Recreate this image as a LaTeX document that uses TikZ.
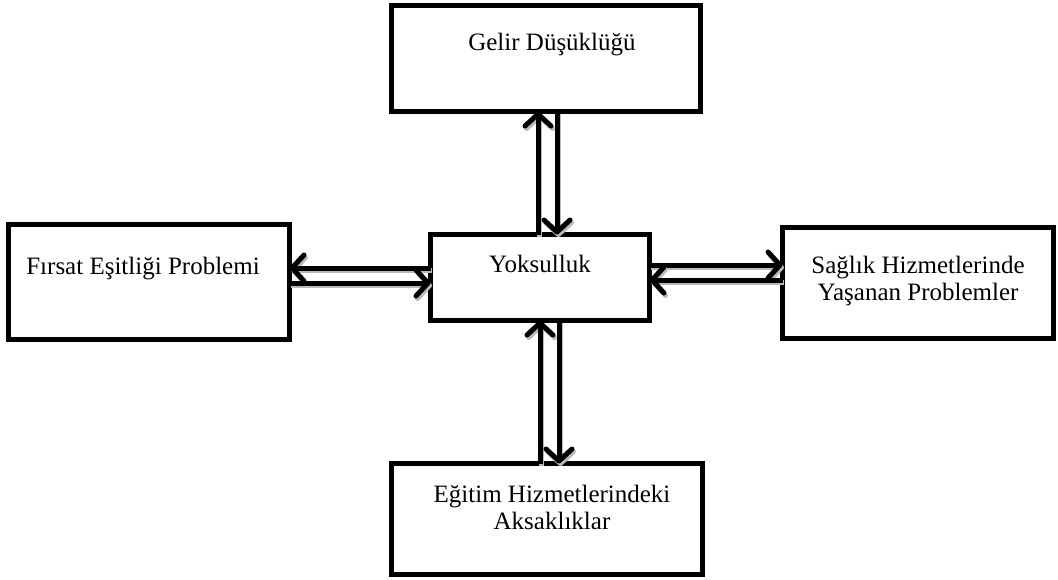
\documentclass[tikz,border=0pt]{standalone}
\usepackage{fontspec}
\setmainfont{Liberation Serif}
\usetikzlibrary{arrows.meta}
\begin{document}
\begin{tikzpicture}[x=1pt,y=-1pt,
  box/.style={draw=black, line width=5pt, rectangle, inner sep=0pt, outer sep=0pt},
  txt/.style={font=\fontsize{25}{27}\selectfont, align=center, inner sep=0pt},
  arr/.style={line width=5pt, -{Straight Barb[round,length=12pt,width=26pt]}},
  shd/.style={arr, draw=gray!55, transform canvas={shift={(1.5pt,-2.5pt)}}}]
\useasboundingbox (0,0) rectangle (1058,579);
\node[box, minimum width=309pt, minimum height=106pt] (gelir) at (546,58.5) {};
\node[box, minimum width=281pt, minimum height=115pt] (firsat) at (149,282) {};
\node[box, minimum width=219pt, minimum height=86pt] (yok) at (540,277.5) {};
\node[box, minimum width=271pt, minimum height=111pt] (saglik) at (918,283) {};
\node[box, minimum width=311pt, minimum height=111pt] (egitim) at (547,519) {};
\node[txt] (tgelir) at (552,45) {Gelir Düşüklüğü};
\node[txt] (tfirsat) at (143,269) {Fırsat Eşitliği Problemi};
\node[txt] (tyok) at (540,264) {Yoksulluk};
\node[txt] (tsaglik) at (918,281) {Sağlık Hizmetlerinde\\Yaşanan Problemler};
\node[txt] (tegitim) at (552,507) {Eğitim Hizmetlerindeki\\Aksaklıklar};
% reference coordinates for arrow positions
\coordinate (xa) at (538,0);
\coordinate (xb) at (557,0);
\coordinate (xc) at (540,0);
\coordinate (xd) at (559,0);
\coordinate (ya) at (0,268);
\coordinate (yb) at (0,283);
\coordinate (yc) at (0,265);
\coordinate (yd) at (0,280);
% top pair
\draw[shd] (yok.north -| xa) -- (gelir.south -| xa);
\draw[arr] (yok.north -| xa) -- (gelir.south -| xa);
\draw[shd] (gelir.south -| xb) -- (yok.north -| xb);
\draw[arr] (gelir.south -| xb) -- (yok.north -| xb);
% bottom pair
\draw[shd] (egitim.north -| xc) -- (yok.south -| xc);
\draw[arr] (egitim.north -| xc) -- (yok.south -| xc);
\draw[shd] (yok.south -| xd) -- (egitim.north -| xd);
\draw[arr] (yok.south -| xd) -- (egitim.north -| xd);
% left pair
\draw[shd] (yok.west |- ya) -- (firsat.east |- ya);
\draw[arr] (yok.west |- ya) -- (firsat.east |- ya);
\draw[shd] (firsat.east |- yb) -- (yok.west |- yb);
\draw[arr] (firsat.east |- yb) -- (yok.west |- yb);
% right pair
\draw[shd] (yok.east |- yc) -- (saglik.west |- yc);
\draw[arr] (yok.east |- yc) -- (saglik.west |- yc);
\draw[shd] (saglik.west |- yd) -- (yok.east |- yd);
\draw[arr] (saglik.west |- yd) -- (yok.east |- yd);
\end{tikzpicture}
\end{document}
